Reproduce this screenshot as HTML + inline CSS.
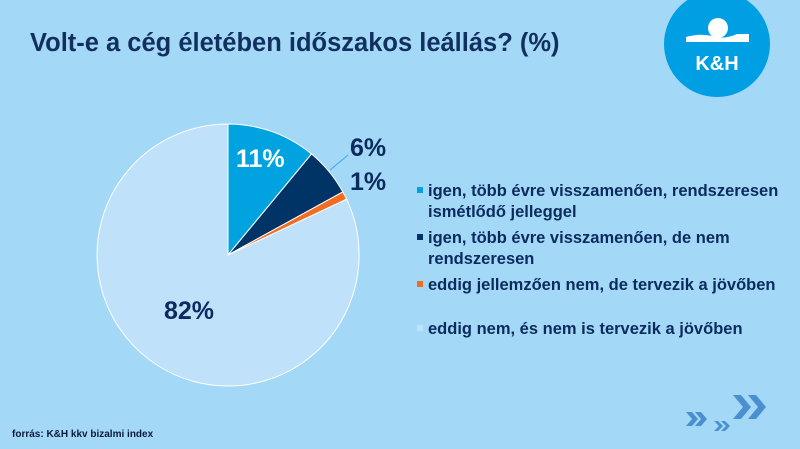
<!DOCTYPE html>
<html><head><meta charset="utf-8"><style>
body{margin:0;width:800px;height:449px;background:#a3d9f7;font-family:"Liberation Sans",sans-serif;position:relative;overflow:hidden}
.t{position:absolute;font-weight:bold;color:#0b2a5e;white-space:nowrap}
</style></head><body>
<div class="t" style="left:30px;top:29px;font-size:25.5px;color:#12305f">Volt-e a cég életében időszakos leállás? (%)</div>
<svg width="800" height="449" style="position:absolute;left:0;top:0">
<circle cx="717" cy="44" r="53" fill="#009fe3"/>
<circle cx="718" cy="28" r="10" fill="#fff"/>
<path d="M686 42 L686 37 Q700 33 712 36 Q724 40 737 34 L749 34 L749 42 Z" fill="#fff"/>
<text x="717" y="70" text-anchor="middle" font-family="Liberation Sans" font-weight="bold" font-size="20" fill="#fff">K&amp;H</text>
<g stroke="#fff" stroke-width="1">
<path d="M228 255 L228 124 A131 131 0 0 1 311.5 154 Z" fill="#00a3e0"/>
<path d="M228 255 L311.5 154 A131 131 0 0 1 342.8 191.9 Z" fill="#003366"/>
<path d="M228 255 L342.8 191.9 A131 131 0 0 1 346.6 199.2 Z" fill="#f26d21"/>
<path d="M228 255 L346.6 199.2 A131 131 0 1 1 228 124 Z" fill="#bfe1f9"/>
</g>
<line x1="330" y1="170" x2="348" y2="155" stroke="#3aa8e8" stroke-width="1"/>
<rect x="417" y="187" width="6" height="6" fill="#00a3e0"/>
<rect x="417" y="234" width="6" height="6" fill="#003366"/>
<rect x="417" y="281" width="6" height="6" fill="#f26d21"/>
<rect x="417" y="325" width="6" height="6" fill="#bfe1f9"/>
<g fill="#4a8fd0">
<path d="M686 412 L692 412 L698 419 L692 426 L686 426 L692 419 Z M695 412 L701 412 L707 419 L701 426 L695 426 L701 419 Z"/>
<path d="M714 421 L718 421 L723 426 L718 431 L714 431 L719 426 Z M721 421 L725 421 L730 426 L725 431 L721 431 L726 426 Z"/>
<path d="M733 395 L741 395 L751 407 L741 419 L733 419 L743 407 Z M748 395 L756 395 L766 407 L756 419 L748 419 L758 407 Z"/>
</g>
</svg>
<div class="t" style="left:236px;top:145px;font-size:25px;color:#fff">11%</div>
<div class="t" style="left:350px;top:134px;font-size:25px">6%</div>
<div class="t" style="left:350px;top:168px;font-size:25px">1%</div>
<div class="t" style="left:164px;top:297px;font-size:25px">82%</div>
<div class="t" style="left:428px;top:181px;font-size:16.5px;line-height:21px">igen, több évre visszamenően, rendszeresen<br>ismétlődő jelleggel</div>
<div class="t" style="left:428px;top:228px;font-size:16.5px;line-height:21px">igen, több évre visszamenően, de nem<br>rendszeresen</div>
<div class="t" style="left:428px;top:275px;font-size:16.5px;line-height:21px">eddig jellemzően nem, de tervezik a jövőben</div>
<div class="t" style="left:428px;top:319px;font-size:16.5px;line-height:21px">eddig nem, és nem is tervezik a jövőben</div>
<div class="t" style="left:12px;top:429px;font-size:10px;color:#0b1a3a">forrás: K&amp;H kkv bizalmi index</div>
</body></html>
